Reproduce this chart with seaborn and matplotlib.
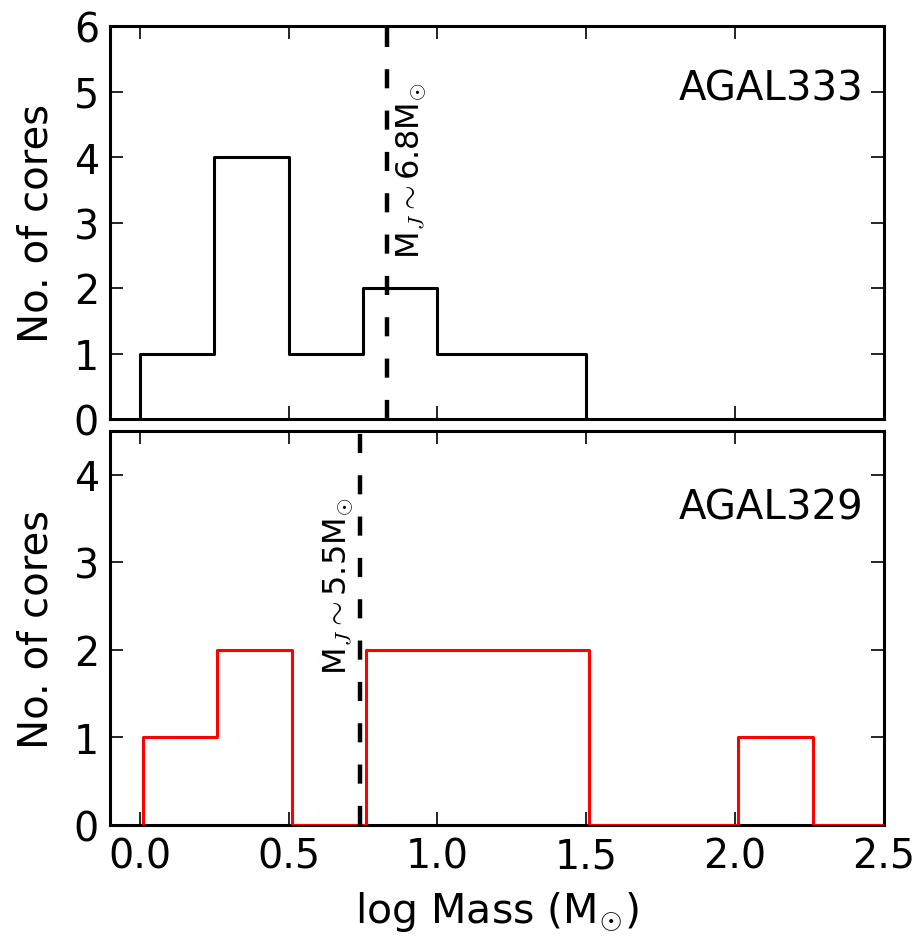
import matplotlib
matplotlib.use("Agg")
import matplotlib.pyplot as plt
import numpy as np
import pandas as pd
import seaborn as sns

# Histogram data (bin edges and counts)
edges_333 = [0.0, 0.25, 0.5, 0.75, 1.0, 1.25, 1.5]
counts_333 = [1, 4, 1, 2, 1, 1]
edges_329 = [0.01, 0.26, 0.51, 0.76, 1.01, 1.26, 1.51, 1.76, 2.01, 2.26, 2.51]
counts_329 = [1, 2, 0, 2, 2, 2, 0, 0, 1, 0]
mj_333 = 0.83
mj_329 = 0.74

sns.set_style("ticks")
plt.rcParams["font.family"] = ["DejaVu Sans"]
plt.rcParams["mathtext.fontset"] = "cm"
plt.rcParams["mathtext.rm"] = "DejaVu Sans"
for k in ("text.color", "axes.labelcolor", "xtick.color", "ytick.color", "axes.edgecolor"):
    plt.rcParams[k] = "black"

fig = plt.figure(figsize=(9.19, 9.37), dpi=100)
ax1 = fig.add_axes([110 / 919, (937 - 420) / 937, 774 / 919, 393 / 937])
ax2 = fig.add_axes([110 / 919, (937 - 826) / 937, 774 / 919, 394 / 937], sharex=ax1)


def draw_hist(ax, edges, counts, color):
    e = np.array(edges)
    df = pd.DataFrame({"mass": (e[:-1] + e[1:]) / 2, "n": counts})
    sns.histplot(df, x="mass", weights="n", bins=list(edges), element="step",
                 fill=False, color=color, linewidth=2.2, ax=ax, zorder=3)
    # close the outline down to zero at both ends, like a step histogram
    ax.vlines([edges[0], edges[-1]], 0, [counts[0], counts[-1]], color=color,
              linewidth=2.2, zorder=3)


draw_hist(ax1, edges_333, counts_333, "black")
draw_hist(ax2, edges_329, counts_329, "red")
for ln in ax1.lines:
    ln.set_clip_on(False)

ax1.axvline(mj_333, color="black", linewidth=3.2, dashes=(4.3, 5.0), zorder=4)
ax2.axvline(mj_329, color="black", linewidth=3.2, dashes=(4.3, 5.0), zorder=4)

ax1.text(0.91, 3.8, r"M$_{J}\sim$6.8M$_{\odot}$", rotation=90, fontsize=23,
         ha="center", va="center")
ax2.text(0.665, 2.74, r"M$_{J}\sim$5.5M$_{\odot}$", rotation=90, fontsize=23,
         ha="center", va="center")

ax1.text(0.973, 0.84, "AGAL333", transform=ax1.transAxes, fontsize=29,
         ha="right", va="center")
ax2.text(0.973, 0.807, "AGAL329", transform=ax2.transAxes, fontsize=29,
         ha="right", va="center")

ax1.set_xlim(-0.1, 2.5)
ax1.set_ylim(0, 6)
ax2.set_ylim(0, 4.5)
ax1.set_xticks([0.0, 0.5, 1.0, 1.5, 2.0, 2.5])
ax1.set_yticks(range(0, 7))
ax2.set_yticks(range(0, 5))
ax2.set_xticklabels(["0.0", "0.5", "1.0", "1.5", "2.0", "2.5"])

for ax in (ax1, ax2):
    ax.tick_params(direction="in", top=True, right=True, length=9.5, width=1.2,
                   labelsize=28.5, pad=8)
    for sp in ax.spines.values():
        sp.set_linewidth(2.2)
        sp.set_visible(True)
        sp.set_zorder(2.5)
    ax.set_ylabel("No. of cores", fontsize=29, labelpad=12)
    ax.set_xlabel("")

ax1.tick_params(labelbottom=False)
ax2.set_xlabel(r"log Mass (M$_{\odot}$)", fontsize=29.5, labelpad=10)

fig.savefig("out.png", dpi=100)
